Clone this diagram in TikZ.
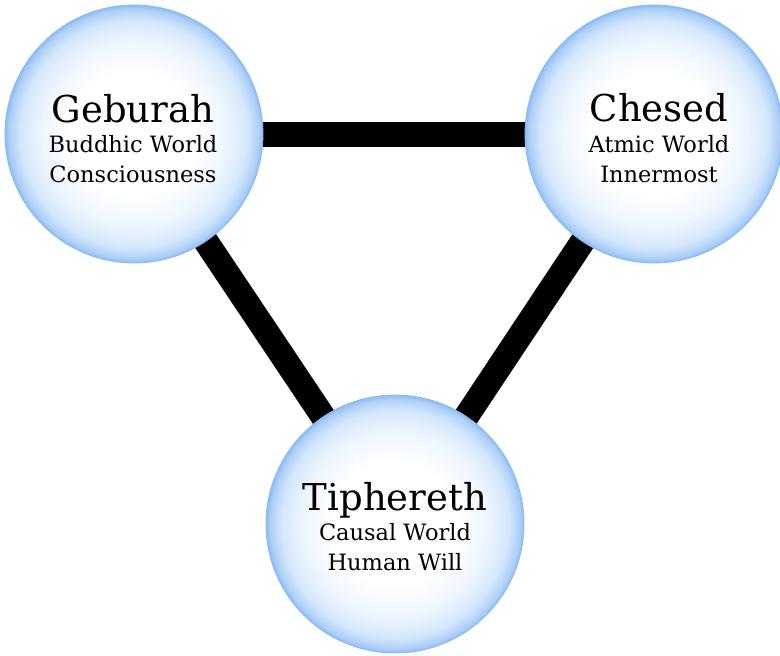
\documentclass[tikz,border=0pt]{standalone}
\usepackage{fontspec}
\setmainfont{DejaVu Serif}
\usetikzlibrary{backgrounds}
\definecolor{orbline}{RGB}{135,186,243}
\pgfdeclareradialshading{orb}{\pgfpoint{0bp}{0bp}}{rgb(0bp)=(1,1,1); rgb(12bp)=(1,1,1); rgb(18bp)=(0.93,0.96,0.995); rgb(22bp)=(0.83,0.905,0.985); rgb(24.2bp)=(0.68,0.81,0.97); rgb(25bp)=(0.55,0.74,0.96); rgb(50bp)=(0.55,0.74,0.96)}
\begin{document}
\begin{tikzpicture}[x=1pt,y=-1pt,
  orbnode/.style={circle, minimum size=258pt, inner sep=0pt, shading=orb, draw=orbline, line width=0.8pt},
  title/.style={font=\fontsize{37}{40}\selectfont, anchor=base, inner sep=0pt},
  sub/.style={font=\fontsize{22.5}{26}\selectfont, anchor=base, inner sep=0pt},
  bar/.style={line width=25pt, draw=black}]
\useasboundingbox (0,0) rectangle (780,656);
\node[orbnode] (g) at (134,134) {};
\node[orbnode] (c) at (654,134) {};
\node[orbnode] (t) at (395,524) {};
\begin{scope}[on background layer]
  \draw[bar] (g.center) -- (c.center);
  \draw[bar] (g.center) -- (t.center);
  \draw[bar] (c.center) -- (t.center);
\end{scope}
\node[title] (gt) at (133,122) {Geburah};
\node[sub] (g1) at (133,152) {Buddhic World};
\node[sub] (g2) at (133,182) {Consciousness};
\node[title] (ct) at (659,121) {Chesed};
\node[sub] (c1) at (659,152) {Atmic World};
\node[sub] (c2) at (659,182) {Innermost};
\node[title] (tt) at (395,510) {Tiphereth};
\node[sub] (t1) at (395,540) {Causal World};
\node[sub] (t2) at (395,570) {Human Will};
\end{tikzpicture}
\end{document}
